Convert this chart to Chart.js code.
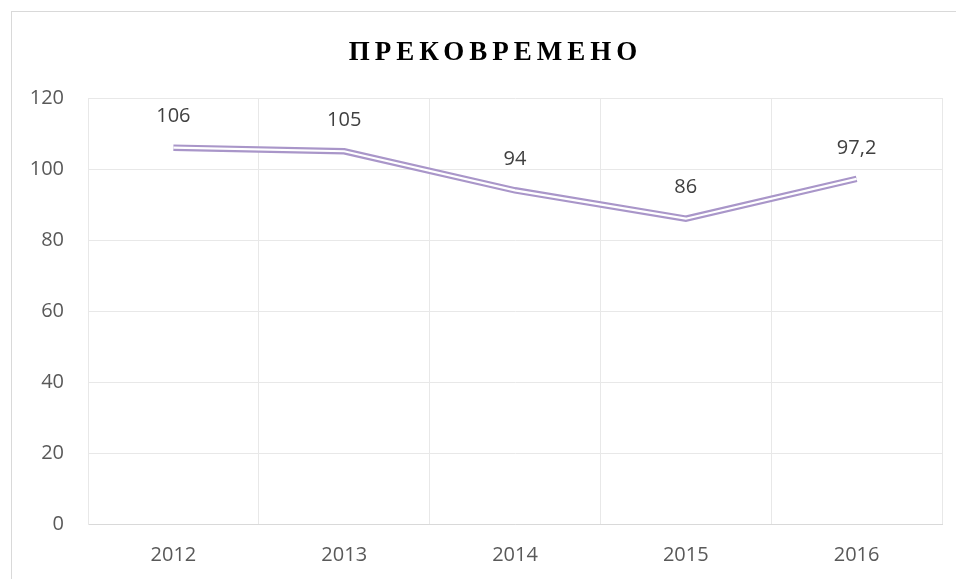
<!DOCTYPE html>
<html>
<head>
<meta charset="utf-8">
<script src="https://cdn.jsdelivr.net/npm/chart.js@4"></script>
<style>
html,body{margin:0;padding:0;background:#fff;}
#wrap{width:956px;height:579px;position:relative;}
</style>
</head>
<body>
<div id="wrap"><canvas id="c" width="956" height="579"></canvas></div>
<script>
const titleText = "ПРЕКОВРЕМЕНО";
const categories = ["2012", "2013", "2014", "2015", "2016"];
const values = [106, 105, 94, 86, 97.2];
const valueLabels = ["106", "105", "94", "86", "97,2"];
const yTicks = [0, 20, 40, 60, 80, 100, 120];

const decor = {
  id: 'decor',
  beforeDraw(chart) {
    const ctx = chart.ctx;
    ctx.save();
    ctx.fillStyle = '#fff';
    ctx.fillRect(0, 0, chart.width, chart.height);
    ctx.strokeStyle = '#d9d9d9';
    ctx.lineWidth = 1;
    ctx.strokeRect(11.5, 11.5, chart.width + 20, chart.height + 20);
    ctx.restore();
  },
  afterDraw(chart) {
    const ctx = chart.ctx;
    ctx.save();
    ctx.font = 'bold 27px "Liberation Serif", "DejaVu Serif", serif';
    ctx.fillStyle = '#000';
    ctx.textBaseline = 'alphabetic';
    ctx.letterSpacing = '5px';
    const w = ctx.measureText(titleText).width - 5;
    ctx.textAlign = 'left';
    ctx.fillText(titleText, 493 - w / 2, 60);
    ctx.letterSpacing = '0px';
    // data labels
    const meta = chart.getDatasetMeta(0);
    ctx.font = '20px "Open Sans", sans-serif';
    ctx.fillStyle = '#404040';
    ctx.textAlign = 'center';
    ctx.textBaseline = 'middle';
    meta.data.forEach((pt, i) => {
      ctx.fillText(valueLabels[i], pt.x, pt.y - 31);
    });
    ctx.restore();
  }
};

new Chart(document.getElementById('c'), {
  type: 'line',
  data: {
    labels: categories,
    datasets: [
      { data: values, borderColor: '#ffffff', borderWidth: 2.2, pointRadius: 0, tension: 0, order: 0 },
      { data: values, borderColor: '#a996c9', borderWidth: 6.5, pointRadius: 0, tension: 0, order: 1 }
    ]
  },
  options: {
    responsive: false,
    animation: false,
    events: [],
    layout: { padding: { top: 98, left: 0, right: 14, bottom: 0 } },
    plugins: { legend: { display: false }, tooltip: { enabled: false }, title: { display: false } },
    scales: {
      x: {
        type: 'category',
        offset: true,
        grid: { offset: true, color: '#e8e8e8', drawTicks: false, lineWidth: 1 },
        border: { color: '#d9d9d9' },
        ticks: { color: '#595959', font: { family: 'Open Sans', size: 20 }, padding: 19, maxRotation: 0 },
        afterFit(s) { s.height = 55; }
      },
      y: {
        min: 0, max: 120,
        afterBuildTicks(s) { s.ticks = yTicks.map(v => ({ value: v })); },
        grid: { color: '#e8e8e8', drawTicks: false },
        border: { color: '#e8e8e8' },
        ticks: { color: '#595959', font: { family: 'Open Sans', size: 20 }, padding: 24 },
        afterFit(s) { s.width = 88; }
      }
    }
  },
  plugins: [decor]
});
</script>
</body>
</html>
